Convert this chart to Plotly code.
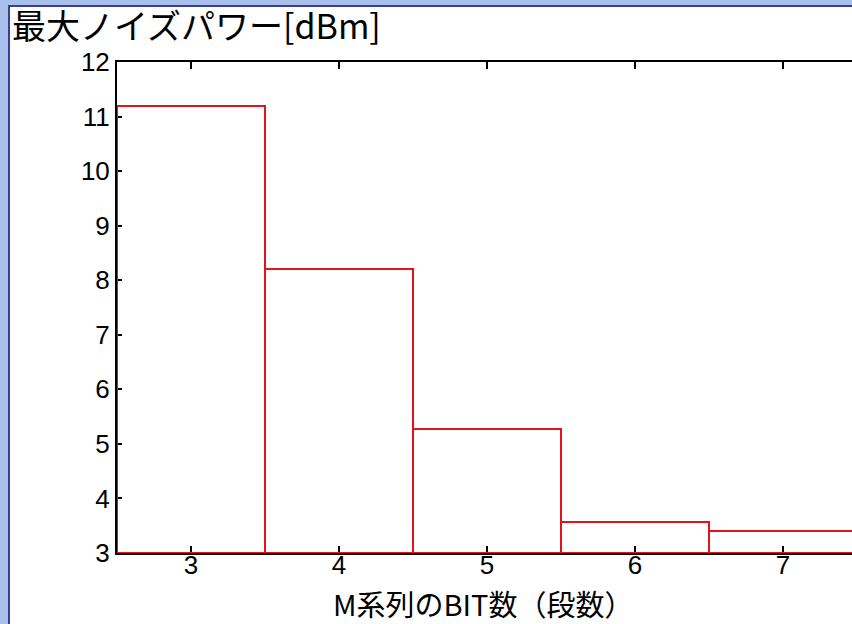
import plotly.graph_objects as go

# M系列の段数と最大ノイズパワー
bits = [3, 4, 5, 6, 7]
noise_dbm = [11.2, 8.2, 5.27, 3.57, 3.4]
y_ticks = [3, 4, 5, 6, 7, 8, 9, 10, 11, 12]

base = 3
W, H = 852, 624
ml, mr, mt, mb = 117, 0, 62, 71
pw, ph = W - ml - mr, H - mt - mb

fig = go.Figure()
fig.add_trace(go.Bar(
    x=bits,
    y=[v - base for v in noise_dbm],
    base=base,
    width=1,
    marker=dict(color="rgba(255,255,255,0)", line=dict(color="#e8101a", width=2)),
    cliponaxis=False,
    hoverinfo="skip",
))

# white panel with dark blue frame
fig.add_shape(
    type="rect", xref="paper", yref="paper", layer="below",
    x0=(9 - ml) / pw, x1=(W + 10 - ml) / pw,
    y0=(H - mb - (H + 10)) / ph, y1=(H - mb - 6) / ph,
    fillcolor="white", line=dict(color="#3a3f8e", width=2),
)

fig.add_annotation(
    text="最大ノイズパワー[dBm]", xref="paper", yref="paper",
    x=(10 - ml) / pw, y=(H - mb + 2) / ph, xanchor="left", yanchor="top",
    showarrow=False, font=dict(family="Noto Sans CJK JP", size=34, color="black"),
)
fig.add_annotation(
    text="M系列のBIT数（段数）", xref="paper", yref="paper",
    x=(483 - ml) / pw, y=(H - mb - 580) / ph, xanchor="center", yanchor="top",
    showarrow=False, font=dict(family="Noto Sans CJK JP", size=29, color="black"),
)

fig.update_layout(
    width=W, height=H,
    margin=dict(l=ml, r=mr, t=mt, b=mb),
    paper_bgcolor="#a9c0ec",
    plot_bgcolor="white",
    showlegend=False,
    bargap=0,
    font=dict(family="Liberation Sans, Arial", size=26, color="black"),
)
fig.update_xaxes(
    range=[2.5, 2.5 + pw / 148], tickvals=bits, ticks="inside", ticklen=7,
    tickwidth=2, tickcolor="black", showline=True, linecolor="black",
    linewidth=2, mirror="ticks", showgrid=False, zeroline=False,
    layer="below traces", ticklabelstandoff=-12,
)
fig.update_yaxes(
    range=[3, 12], tickvals=y_ticks, ticks="inside", ticklen=5,
    tickwidth=1.5, tickcolor="black", showline=True, linecolor="black",
    linewidth=2, showgrid=False, zeroline=False, layer="below traces",
)

fig.write_html(
    "out.html",
    config={"displayModeBar": False},
    post_script="document.body.style.margin='0';document.body.style.background='#a9c0ec';",
)
